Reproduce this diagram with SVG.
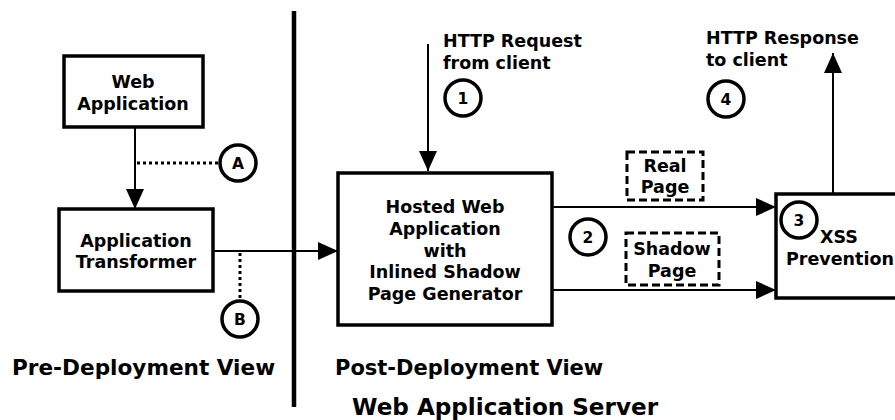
<svg xmlns="http://www.w3.org/2000/svg" width="895" height="420" viewBox="0 0 895 420">
  <style>
    text { font-family: "DejaVu Sans", Verdana, sans-serif; font-weight: bold; fill: #000; }
    .lbl { font-size: 17.5px; }
    .mid { text-anchor: middle; }
    .cap { font-size: 21px; }
    .num { font-size: 15.5px; text-anchor: middle; }
    .box { fill: #fff; stroke: #000; stroke-width: 3.5; }
    .dash { fill: none; stroke: #000; stroke-width: 3; stroke-dasharray: 8 4; }
    .ring { fill: #fff; stroke: #000; stroke-width: 3.5; }
    .wire { fill: none; stroke: #000; stroke-width: 2; }
    .dot { fill: none; stroke: #000; stroke-width: 3; stroke-dasharray: 3 3; }
  </style>
  <defs>
    <marker id="head" markerUnits="userSpaceOnUse" markerWidth="20" markerHeight="18" refX="20" refY="9" orient="auto">
      <path d="M0,0 L20,9 L0,18 Z" fill="#000"/>
    </marker>
  </defs>

  <rect width="895" height="420" fill="#fff"/>

  <!-- divider between pre- and post-deployment -->
  <line x1="294" y1="11" x2="294" y2="407" stroke="#000" stroke-width="4.5"/>

  <g id="connectors">
    <line class="wire" x1="135" y1="128" x2="135" y2="209" marker-end="url(#head)"/>
    <line class="dot" x1="137" y1="163" x2="220" y2="163"/>
    <line class="wire" x1="213" y1="251" x2="338" y2="251" marker-end="url(#head)"/>
    <line class="dot" x1="240" y1="253" x2="240" y2="301"/>
    <line class="wire" x1="428" y1="44" x2="428" y2="171" marker-end="url(#head)"/>
    <line class="wire" x1="552" y1="207" x2="776" y2="207" marker-end="url(#head)"/>
    <line class="wire" x1="552" y1="290" x2="776" y2="290" marker-end="url(#head)"/>
    <line class="wire" x1="833" y1="194" x2="833" y2="53" marker-end="url(#head)"/>
  </g>

  <g id="web-application">
    <rect class="box" x="64" y="56" width="139" height="71"/>
    <text class="lbl mid" x="133" y="88">Web</text>
    <text class="lbl mid" x="133" y="110">Application</text>
  </g>

  <g id="application-transformer">
    <rect class="box" x="59" y="209" width="154" height="82"/>
    <text class="lbl mid" x="136" y="247">Application</text>
    <text class="lbl mid" x="136" y="268">Transformer</text>
  </g>

  <g id="hosted-web-application">
    <rect class="box" x="338" y="173" width="214" height="152"/>
    <text class="lbl mid" x="445" y="213">Hosted Web</text>
    <text class="lbl mid" x="445" y="235">Application</text>
    <text class="lbl mid" x="445" y="257">with</text>
    <text class="lbl mid" x="445" y="278">Inlined Shadow</text>
    <text class="lbl mid" x="445" y="300">Page Generator</text>
  </g>

  <g id="xss-prevention">
    <rect class="box" x="776" y="194" width="130" height="104"/>
    <text class="lbl" x="820" y="243">XSS</text>
    <text class="lbl" x="786" y="265">Prevention</text>
  </g>

  <g id="real-page">
    <rect class="dash" x="627" y="152" width="76" height="48"/>
    <text class="lbl mid" x="665" y="172">Real</text>
    <text class="lbl mid" x="665" y="193">Page</text>
  </g>

  <g id="shadow-page">
    <rect class="dash" x="626" y="233" width="93" height="52"/>
    <text class="lbl mid" x="672" y="255">Shadow</text>
    <text class="lbl mid" x="672" y="277">Page</text>
  </g>

  <g id="http-request">
    <text class="lbl" x="443" y="47">HTTP Request</text>
    <text class="lbl" x="443" y="69">from client</text>
  </g>

  <g id="http-response">
    <text class="lbl" x="706" y="44">HTTP Response</text>
    <text class="lbl" x="706" y="66">to client</text>
  </g>

  <g id="markers">
    <circle class="ring" cx="238" cy="163" r="18"/>
    <text class="num" x="238" y="168.5">A</text>
    <circle class="ring" cx="240" cy="319" r="18"/>
    <text class="num" x="240" y="324.5">B</text>
    <circle class="ring" cx="463" cy="98" r="18"/>
    <text class="num" x="463" y="103.5">1</text>
    <circle class="ring" cx="588" cy="237" r="18"/>
    <text class="num" x="588" y="242.5">2</text>
    <circle class="ring" cx="799" cy="220" r="18"/>
    <text class="num" x="799" y="225.5">3</text>
    <circle class="ring" cx="726" cy="99" r="18"/>
    <text class="num" x="726" y="104.5">4</text>
  </g>

  <g id="captions">
    <text class="cap" x="12" y="375" style="font-size:21.6px">Pre-Deployment View</text>
    <text class="cap" x="335" y="375">Post-Deployment View</text>
    <text class="cap" x="352" y="415" style="font-size:23.1px">Web Application Server</text>
  </g>
</svg>
